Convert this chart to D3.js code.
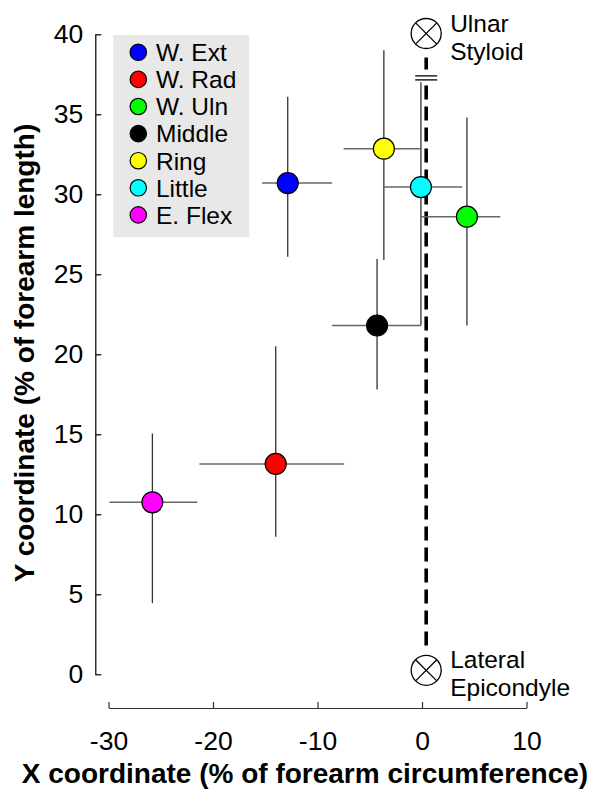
<!DOCTYPE html>
<html>
<head>
<meta charset="utf-8">
<script src="https://cdn.jsdelivr.net/npm/d3@7"></script>
<style>
    body { margin: 0; background: #fff; }
    svg { font-family: 'Liberation Sans', Arial, Helvetica, sans-serif; }
</style>
</head>
<body>
<svg id="chart"></svg>
<script>
// muscle groups
const names = ['W. Ext', 'W. Rad', 'W. Uln', 'Middle', 'Ring', 'Little', 'E. Flex'];
const colors = ['#0000ff', '#ff0000', '#00ff00', '#000000', '#ffff00', '#00ffff', '#ff00ff'];

// mean position and error bar ends
const xMean = [-12.85, -14.0, 4.3, -4.3, -3.65, -0.1, -25.8];
const yMean = [30.7, 13.15, 28.6, 21.8, 32.85, 30.45, 10.75];
const xLo = [-15.3, -21.3, -0.1, -8.6, -7.5, -3.65, -29.9];
const xHi = [-8.6, -7.45, 7.5, -0.1, -0.1, 3.85, -21.5];
const yLo = [26.1, 8.6, 21.8, 17.8, 25.9, 21.8, 4.45];
const yHi = [36.1, 20.5, 34.8, 25.95, 39.0, 37.0, 15.05];

// bony landmarks
const landmarkX = [0.4, 0.4];
const landmarkY = [40.05, 0.25];
const landmarkLabels = [['Ulnar', 'Styloid'], ['Lateral', 'Epicondyle']];

// dashed reference line (broken near the top)
const refSegments = [[1.8, 37.1], [37.8, 38.55]];
const breakY = [37.15, 37.4];

// ticks
const xTicks = [-30, -20, -10, 0, 10];
const yTicks = [0, 5, 10, 15, 20, 25, 30, 35, 40];

class errorChart {

    constructor(_config) {
        this.config = {
            parentElement: _config.parentElement,
            containerWidth: 595,
            containerHeight: 789
        }
        this.initVis();
    }

    initVis() {
        let vis = this;

        vis.svg = d3.select(vis.config.parentElement)
            .attr('width', vis.config.containerWidth)
            .attr('height', vis.config.containerHeight);

        vis.xScale = d3.scaleLinear()
            .domain([-30, 10])
            .range([108.5, 526.5]);

        vis.yScale = d3.scaleLinear()
            .domain([0, 40])
            .range([674.3, 34.3]);

        // MATLAB-like detached axes, ticks pointing in, plain hyphen minus
        vis.xAxis = d3.axisBottom(vis.xScale)
            .tickValues(xTicks)
            .tickFormat(d => String(d))
            .tickSizeInner(-6)
            .tickSizeOuter(0)
            .tickPadding(23);

        vis.yAxis = d3.axisLeft(vis.yScale)
            .tickValues(yTicks)
            .tickFormat(d => String(d))
            .tickSizeInner(-6)
            .tickSizeOuter(0)
            .tickPadding(12);

        vis.xAxisG = vis.svg.append('g')
            .attr('transform', 'translate(0,708)');
        vis.yAxisG = vis.svg.append('g')
            .attr('transform', 'translate(95.3,0)');

        vis.legendG = vis.svg.append('g');
        vis.refG = vis.svg.append('g');
        vis.barsG = vis.svg.append('g');
        vis.pointsG = vis.svg.append('g');
        vis.landmarkG = vis.svg.append('g');

        // axis titles
        vis.svg.append('text')
            .attr('x', 305)
            .attr('y', 783)
            .attr('text-anchor', 'middle')
            .attr('font-size', 28)
            .attr('font-weight', 'bold')
            .text('X coordinate (% of forearm circumference)');

        vis.svg.append('text')
            .attr('transform', 'translate(34,353) rotate(-90)')
            .attr('text-anchor', 'middle')
            .attr('font-size', 28)
            .attr('font-weight', 'bold')
            .text('Y coordinate (% of forearm length)');

        vis.renderVis();
    }

    renderVis() {
        let vis = this;
        let idx = d3.range(names.length);

        vis.xAxisG.call(vis.xAxis);
        vis.yAxisG.call(vis.yAxis);
        vis.xAxisG.selectAll('text').attr('font-size', 26.5).attr('fill', '#000');
        vis.yAxisG.selectAll('text').attr('font-size', 26.5).attr('fill', '#000');
        vis.xAxisG.selectAll('path, line').attr('stroke', '#333').attr('stroke-width', 1.2);
        vis.yAxisG.selectAll('path, line').attr('stroke', '#000').attr('stroke-width', 1.2);
        vis.svg.selectAll('.domain').attr('fill', 'none');

        // reference line
        vis.refG.selectAll('.ref-seg')
            .data(refSegments)
            .join('line')
            .attr('class', 'ref-seg')
            .attr('x1', vis.xScale(landmarkX[0]))
            .attr('x2', vis.xScale(landmarkX[0]))
            .attr('y1', d => vis.yScale(d[0]))
            .attr('y2', d => vis.yScale(d[1]))
            .attr('stroke', '#000')
            .attr('stroke-width', 3.6)
            .attr('stroke-dasharray', (d, i) => i === 0 ? '14,7' : null);

        vis.refG.selectAll('.break')
            .data(breakY)
            .join('line')
            .attr('class', 'break')
            .attr('x1', vis.xScale(landmarkX[0]) - 11)
            .attr('x2', vis.xScale(landmarkX[0]) + 11)
            .attr('y1', d => vis.yScale(d))
            .attr('y2', d => vis.yScale(d))
            .attr('stroke', '#000')
            .attr('stroke-width', 1.3);

        // error bars
        vis.barsG.selectAll('.vbar')
            .data(idx)
            .join('line')
            .attr('class', 'vbar')
            .attr('x1', i => vis.xScale(xMean[i]))
            .attr('x2', i => vis.xScale(xMean[i]))
            .attr('y1', i => vis.yScale(yLo[i]))
            .attr('y2', i => vis.yScale(yHi[i]))
            .attr('stroke', '#333')
            .attr('stroke-width', 1.3);

        vis.barsG.selectAll('.hbar')
            .data(idx)
            .join('line')
            .attr('class', 'hbar')
            .attr('x1', i => vis.xScale(xLo[i]))
            .attr('x2', i => vis.xScale(xHi[i]))
            .attr('y1', i => vis.yScale(yMean[i]))
            .attr('y2', i => vis.yScale(yMean[i]))
            .attr('stroke', '#666')
            .attr('stroke-width', 1.5);

        vis.pointsG.selectAll('circle')
            .data(idx)
            .join('circle')
            .attr('cx', i => vis.xScale(xMean[i]))
            .attr('cy', i => vis.yScale(yMean[i]))
            .attr('r', 10.5)
            .attr('fill', i => colors[i])
            .attr('stroke', '#000')
            .attr('stroke-width', 1.2);

        // landmarks: circle with a cross
        let lm = vis.landmarkG.selectAll('.landmark')
            .data(d3.range(landmarkX.length))
            .join('g')
            .attr('class', 'landmark')
            .attr('transform', i => `translate(${vis.xScale(landmarkX[i])},${vis.yScale(landmarkY[i])})`);

        let r = 15, k = r * Math.SQRT1_2;
        lm.append('circle')
            .attr('r', r)
            .attr('fill', '#fff')
            .attr('stroke', '#000')
            .attr('stroke-width', 1.3);
        lm.append('path')
            .attr('d', `M${-k},${-k}L${k},${k}M${-k},${k}L${k},${-k}`)
            .attr('stroke', '#000')
            .attr('stroke-width', 1.3);
        lm.selectAll('text')
            .data(i => landmarkLabels[i])
            .join('text')
            .attr('x', 24)
            .attr('y', (d, j) => j === 0 ? -2 : 26)
            .attr('font-size', 24.5)
            .text(d => d);

        // legend
        vis.legendG.append('rect')
            .attr('x', 113.3)
            .attr('y', 35)
            .attr('width', 136)
            .attr('height', 202.3)
            .attr('fill', '#e8e8e8');

        let items = vis.legendG.selectAll('.item')
            .data(idx)
            .join('g')
            .attr('class', 'item')
            .attr('transform', i => `translate(138.3,${52.3 + i * 27.1})`);

        items.append('circle')
            .attr('r', 8.2)
            .attr('fill', i => colors[i])
            .attr('stroke', '#000')
            .attr('stroke-width', 1.2);

        items.append('text')
            .attr('x', 17.7)
            .attr('dy', '0.36em')
            .attr('font-size', 24.5)
            .text(i => names[i]);
    }
}

new errorChart({ parentElement: '#chart' });
</script>
</body>
</html>
